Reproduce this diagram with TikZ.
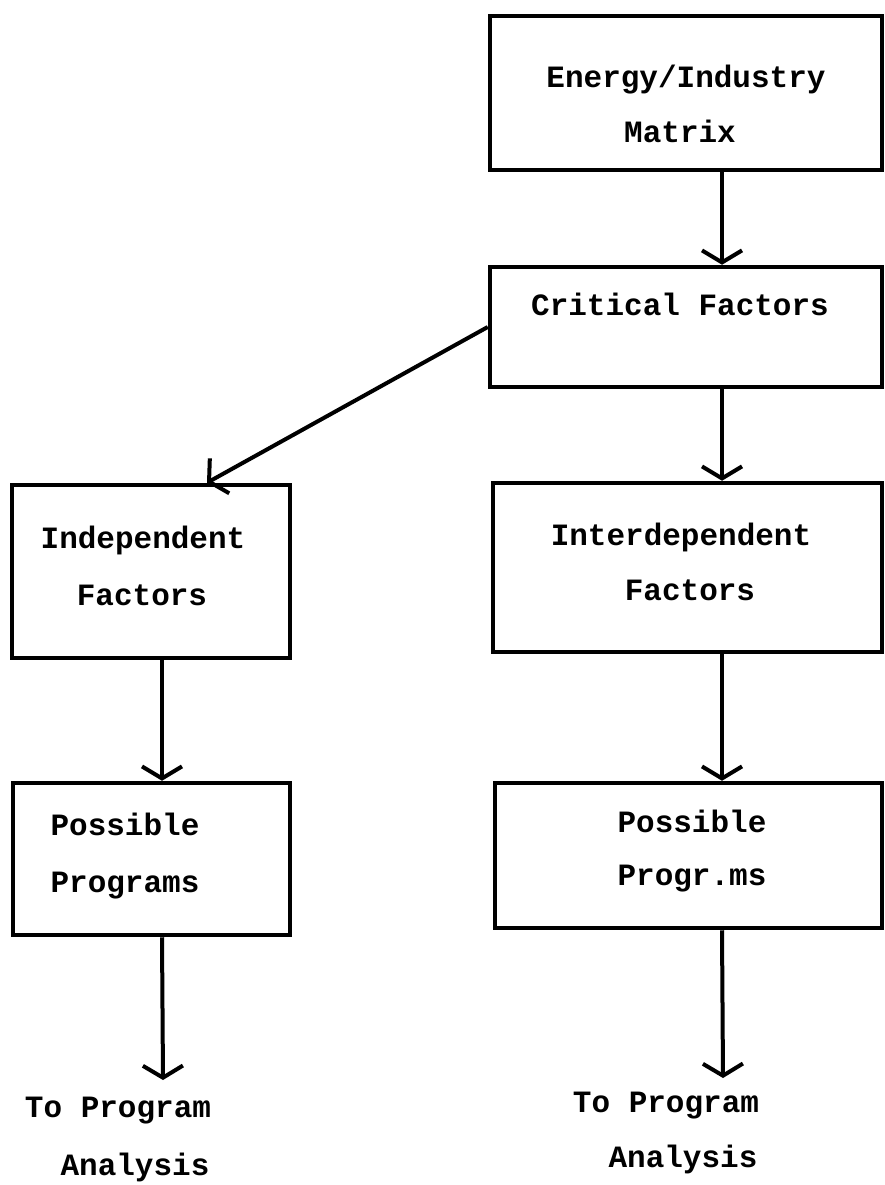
\documentclass[tikz,border=0pt]{standalone}
\usepackage{fontspec}
\setmainfont{Liberation Mono}
\usepackage{tikz}
\usetikzlibrary{arrows.meta,positioning,calc}

\begin{document}
\begin{tikzpicture}[x=1pt,y=-1pt,
        box/.style={draw, line width=4.5pt, inner sep=0pt},
        lbl/.style={font=\bfseries\fontsize{31}{31}\selectfont, anchor=base, inner sep=0pt},
        flow/.style={line width=4pt, -{Straight Barb[length=12pt,width=40pt]}}]
            \useasboundingbox (0,0) rectangle (884,1185);

            % boxes
            \node[box, minimum width=392pt, minimum height=154pt] (matrix) at (686,93) {};
            \node[box, minimum width=392pt, minimum height=120pt] (crit) at (686,327) {};
            \node[box, minimum width=278pt, minimum height=173pt] (indep) at (151,571.5) {};
            \node[box, minimum width=389pt, minimum height=169pt] (inter) at (687.5,567.5) {};
            \node[box, minimum width=277pt, minimum height=152pt] (progL) at (151.5,859) {};
            \node[box, minimum width=387pt, minimum height=145pt] (progR) at (688.5,855.5) {};

            % texts
            \node[lbl] (matrixA) at (686,88) {Energy/Industry};
            \node[lbl] (matrixB) at (680,143) {Matrix};
            \node[lbl] (critA) at (680,315) {Critical Factors};
            \node[lbl] (indepA) at (143,548) {Independent};
            \node[lbl] (indepB) at (142,605) {Factors};
            \node[lbl] (interA) at (681,545) {Interdependent};
            \node[lbl] (interB) at (690,600) {Factors};
            \node[lbl] (progLA) at (125,835) {Possible};
            \node[lbl] (progLB) at (125,892) {Programs};
            \node[lbl] (progRA) at (692,832) {Possible};
            \node[lbl] (progRB) at (692,885) {Progr.ms};
            \node[lbl] (toL) at (118,1117) {To Program};
            \node[lbl] (anL) at (135,1175) {Analysis};
            \node[lbl] (toR) at (666,1112) {To Program};
            \node[lbl] (anR) at (683,1167) {Analysis};

            % columns of the arrows
            \coordinate (lcol) at (162,0);
            \coordinate (rcol) at (722,0);
            \coordinate (endL) at (163,1080);
            \coordinate (endR) at (723,1078);

            % arrows
            \draw[flow] (matrix.south -| rcol) -- (crit.north -| rcol);
            \draw[flow] (crit.west) -- ($(indep.north)+(56,0)$);
            \draw[flow] (crit.south -| rcol) -- (inter.north -| rcol);
            \draw[flow] (indep.south -| lcol) -- (progL.north -| lcol);
            \draw[flow] (inter.south -| rcol) -- (progR.north -| rcol);
            \draw[flow] (progL.south -| lcol) -- (endL);
            \draw[flow] (progR.south -| rcol) -- (endR);
        \end{tikzpicture}
\end{document}
